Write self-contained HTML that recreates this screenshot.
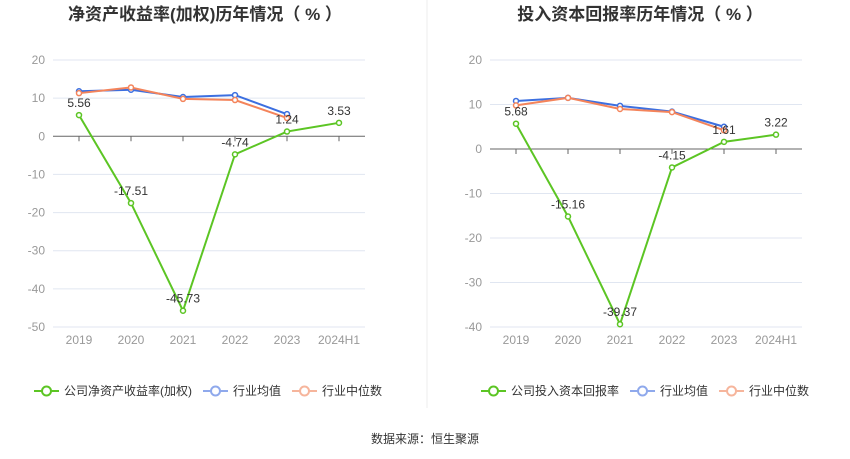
<!DOCTYPE html>
<html><head><meta charset="utf-8"><style>
body{margin:0;background:#fff;width:850px;height:459px;overflow:hidden;font-family:"Liberation Sans","Noto Sans CJK SC",sans-serif}
svg{position:absolute;left:0;top:0}
</style></head><body>
<svg id="s" width="850" height="459"></svg>
<script>
const categories=["2019","2020","2021","2022","2023","2024H1"];
const roeCompany=[5.56,-17.51,-45.73,-4.74,1.24,3.53];
const roeAvg=[11.8,12.2,10.3,10.8,5.8];
const roeMedian=[11.3,12.8,9.8,9.5,4.8];
const roiCompany=[5.68,-15.16,-39.37,-4.15,1.61,3.22];
const roiAvg=[10.8,11.5,9.7,8.4,5.0];
const roiMedian=[9.8,11.5,9.0,8.3,4.2];
const roeTicks=[20,10,0,-10,-20,-30,-40,-50];
const roiTicks=[20,10,0,-10,-20,-30,-40];
const NS="http://www.w3.org/2000/svg";
const svg=document.getElementById('s');
function mk(tag,attrs,parent){const e=document.createElementNS(NS,tag);for(const k in attrs)e.setAttribute(k,attrs[k]);(parent||svg).appendChild(e);return e;}
function chart(cfg){
  const g=mk('g',{});
  
  
  const max=cfg.ticks[0],min=cfg.ticks[cfg.ticks.length-1];
  const y=v=>60+(max-v)/(max-min)*267;
  const bw=(cfg.x1-cfg.x0)/categories.length;
  const x=i=>cfg.x0+bw*(i+0.5);
  const t=mk('text',{x:cfg.tx,y:20,'text-anchor':'middle','font-size':17,'font-weight':'bold',fill:'#333'},g);
  t.textContent=cfg.title;
  
  
  cfg.ticks.forEach(v=>{
    const l=mk('line',{x1:cfg.x0,x2:cfg.x1,y1:y(v),y2:y(v),stroke:v==0?'#666':'#e0e6f1','stroke-width':1},g);
    
    
    const tx=mk('text',{x:cfg.x0-8,y:y(v)+4,'text-anchor':'end','font-size':12,fill:'#999'},g);
    tx.textContent=v;
    
    
  });
  categories.forEach((c,i)=>{
    mk('line',{x1:x(i),x2:x(i),y1:y(0),y2:y(0)+5,stroke:'#666'},g);
    const tx=mk('text',{x:x(i),y:344,'text-anchor':'middle','font-size':12,fill:'#999'},g);
    tx.textContent=c;
    
    
  });
  function series(vals,color,name,labels){
    const p=mk('polyline',{points:vals.map((v,i)=>x(i)+','+y(v)).join(' '),fill:'none',stroke:color,'stroke-width':2},g);
    
    
    vals.forEach((v,i)=>{
      const c=mk('circle',{cx:x(i),cy:y(v),r:2.5,fill:'#fff',stroke:color,'stroke-width':1.5},g);
      
      
      if(labels){const tx=mk('text',{x:x(i),y:y(v)-8,'text-anchor':'middle','font-size':12,fill:'#333'},g);
        tx.textContent=v.toFixed(2);
        
        }
    });
  }
  series(cfg.avg,'#3c6fe0','industry-average-line');
  series(cfg.med,'#f4845b','industry-median-line');
  series(cfg.comp,'#5cc524','company-line',true);
  const items=[[cfg.legend,'#5cc524'],['行业均值','#8fa9ec'],['行业中位数','#f6b59c']];
  let lx=cfg.lx;
  items.forEach((it,k)=>{
    const lg=mk('g',{},g);
    
    
    mk('line',{x1:lx,x2:lx+25,y1:391,y2:391,stroke:it[1],'stroke-width':2},lg);
    mk('circle',{cx:lx+12.5,cy:391,r:4.5,fill:'#fff',stroke:it[1],'stroke-width':2},lg);
    const tx=mk('text',{x:lx+30,y:395,'font-size':12,fill:'#333'},lg);
    tx.textContent=it[0];
    lx+=30+tx.getComputedTextLength()+11;
  });
}
chart({name:'roe-chart',title:'净资产收益率(加权)历年情况（ % ）',tx:205,x0:53,x1:365,ticks:roeTicks,comp:roeCompany,avg:roeAvg,med:roeMedian,legend:'公司净资产收益率(加权)',lx:34});
chart({name:'roi-chart',title:'投入资本回报率历年情况（ % ）',tx:640,x0:490,x1:802,ticks:roiTicks,comp:roiCompany,avg:roiAvg,med:roiMedian,legend:'公司投入资本回报率',lx:481});
const d=mk('line',{x1:427,x2:427,y1:0,y2:408,stroke:'#eee'});


const src=mk('text',{x:425,y:443,'text-anchor':'middle','font-size':12,fill:'#333'});
src.textContent='数据来源：恒生聚源';


</script>
</body></html>
